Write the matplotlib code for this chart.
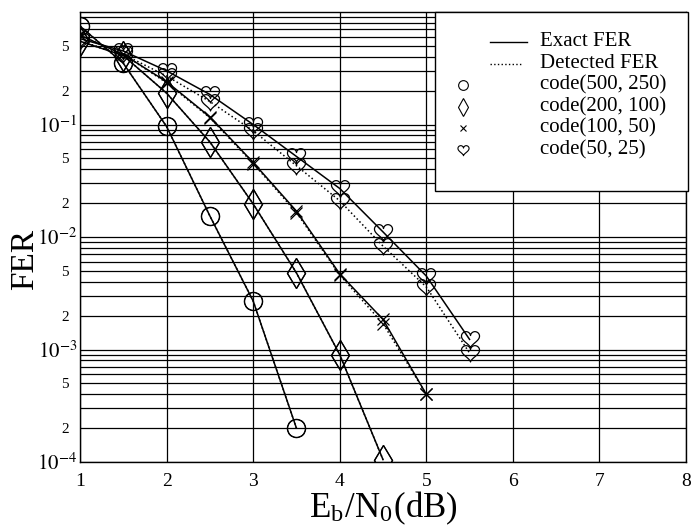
import matplotlib
matplotlib.use("Agg")
import numpy as np
import matplotlib.pyplot as plt
from matplotlib.lines import Line2D
from matplotlib.patches import Rectangle
from matplotlib.path import Path
from matplotlib.ticker import FixedLocator, FixedFormatter

plt.rcParams['font.family'] = ['Liberation Serif', 'DejaVu Serif']
plt.rcParams['mathtext.fontset'] = 'stix'

# ---- data ----
x_500 = [1, 1.5, 2, 2.5, 3, 3.5]
fer_500_exact = [0.75, 0.35, 0.096, 0.0154, 0.0027, 0.0002]
fer_500_det = [0.75, 0.35, 0.096, 0.0154, 0.0027, 0.0002]

x_200 = [1, 1.5, 2, 2.5, 3, 3.5, 4, 4.5]
fer_200_exact = [0.55, 0.41, 0.19, 0.070, 0.0197, 0.0048, 0.0009, 0.000105]
fer_200_det = [0.55, 0.41, 0.19, 0.070, 0.0197, 0.0048, 0.0009, 0.000105]

x_100 = [1, 1.5, 2, 2.5, 3, 3.5, 4, 4.5, 5]
fer_100_exact = [0.62, 0.42, 0.24, 0.117, 0.046, 0.017, 0.0047, 0.00185, 0.0004]
fer_100_det = [0.62, 0.42, 0.235, 0.115, 0.045, 0.0165, 0.0046, 0.0017, 0.0004]

x_50 = [1, 1.5, 2, 2.5, 3, 3.5, 4, 4.5, 5, 5.5]
fer_50_exact = [0.58, 0.45, 0.30, 0.185, 0.10, 0.052, 0.027, 0.0111, 0.0045, 0.00123]
fer_50_det = [0.55, 0.42, 0.27, 0.16, 0.088, 0.043, 0.021, 0.0083, 0.0036, 0.00093]

x_ticks = [1, 2, 3, 4, 5, 6, 7, 8]
y_major = [1e-4, 1e-3, 1e-2, 1e-1]
y_major_labels = [r'$10^{-4}$', r'$10^{-3}$', r'$10^{-2}$', r'$10^{-1}$']
legend_labels = ['Exact FER', 'Detected FER', 'code(500, 250)', 'code(200, 100)',
                 'code(100, 50)', 'code(50, 25)']

# open heart marker shape
_t = np.linspace(0, 2 * np.pi, 80)
_hx = 16 * np.sin(_t) ** 3
_hy = 13 * np.cos(_t) - 5 * np.cos(2 * _t) - 2 * np.cos(3 * _t) - np.cos(4 * _t)
heart = Path(np.column_stack([_hx, _hy + 2]), closed=True)

W, H = 691, 526
fig = plt.figure(figsize=(W / 100, H / 100), dpi=100)
AX_L, AX_R, AX_T, AX_B = 80, 686, 12, 462
ax = fig.add_axes([AX_L / W, 1 - AX_B / H, (AX_R - AX_L) / W, (AX_B - AX_T) / H])

series = [
    (x_500, fer_500_exact, fer_500_det, 'o', 13),
    (x_200, fer_200_exact, fer_200_det, 'd', 15),
    (x_100, fer_100_exact, fer_100_det, 'x', 9),
    (x_50, fer_50_exact, fer_50_det, heart, 13),
]
for xs, ye, yd, m, ms in series:
    ax.semilogy(xs, ye, color='black', lw=1.1, ls='-', marker=m, ms=ms,
                mfc='none', mec='black', mew=0.9, zorder=3)
    ax.semilogy(xs, yd, color='black', lw=1.1, ls=':', marker=m, ms=ms,
                mfc='none', mec='black', mew=0.9, zorder=3)

ax.set_xlim(1, 8)
ax.set_ylim(1e-4, 1)
ax.xaxis.set_major_locator(FixedLocator(x_ticks))
ax.set_xticklabels([str(v) for v in x_ticks])

ax.yaxis.set_major_locator(FixedLocator(y_major))
ax.yaxis.set_major_formatter(FixedFormatter(y_major_labels))
minor_vals = []
minor_labels = []
for d in [1e-4, 1e-3, 1e-2, 1e-1]:
    for k in range(2, 10):
        minor_vals.append(k * d)
        minor_labels.append(str(k) if k in (2, 5) else '')
ax.yaxis.set_minor_locator(FixedLocator(minor_vals))
ax.yaxis.set_minor_formatter(FixedFormatter(minor_labels))

ax.tick_params(axis='both', which='both', length=0)
ax.tick_params(axis='x', labelsize=14, pad=8)
ax.tick_params(axis='y', which='major', labelsize=15, pad=2)
ax.tick_params(axis='y', which='minor', labelsize=11, pad=8)

ax.grid(True, which='major', axis='both', color='black', lw=0.9)
ax.grid(True, which='minor', axis='y', color='black', lw=0.9)
for s in ax.spines.values():
    s.set_linewidth(1.0)

ax.set_xlabel(r'E$_\mathregular{b}$/N$_\mathregular{0}$(dB)', fontsize=25, labelpad=0)
ax.set_ylabel('FER', fontsize=24)
ax.yaxis.set_label_coords((40 - AX_L) / (AX_R - AX_L), 0.45)

# ---- manual legend (positions in axes fraction) ----
def fx(px):
    return (px - AX_L) / (AX_R - AX_L)

def fy(py):
    return (AX_B - py) / (AX_B - AX_T)

box = Rectangle((fx(435), fy(191)), fx(AX_R + 2) - fx(435), fy(AX_T) - fy(191),
                transform=ax.transAxes, facecolor='white', edgecolor='black',
                lw=1.0, zorder=5, clip_on=False)
ax.add_patch(box)
rows = [42, 63.5, 85, 106.5, 128, 149.5]
ax.add_line(Line2D([fx(490), fx(527)], [fy(rows[0])] * 2, transform=ax.transAxes,
                   color='black', lw=1.0, ls='-', zorder=6))
ax.add_line(Line2D([fx(490), fx(523)], [fy(rows[1])] * 2, transform=ax.transAxes,
                   color='black', lw=1.0, ls=':', zorder=6))
leg_markers = [('o', 7, 0.8), ('d', 9, 0.8), ('x', 5, 0.8), (heart, 8, 0.8)]
for (m, ms, mw), r in zip(leg_markers, rows[2:]):
    ax.add_line(Line2D([fx(463)], [fy(r)], transform=ax.transAxes, ls='none',
                       marker=m, ms=ms, mfc='none', mec='black', mew=mw, zorder=6))
for lab, r in zip(legend_labels, rows):
    ax.text(fx(540), fy(r), lab, transform=ax.transAxes, fontsize=15,
            ha='left', va='center', zorder=7)

fig.savefig('out.png', dpi=100)
